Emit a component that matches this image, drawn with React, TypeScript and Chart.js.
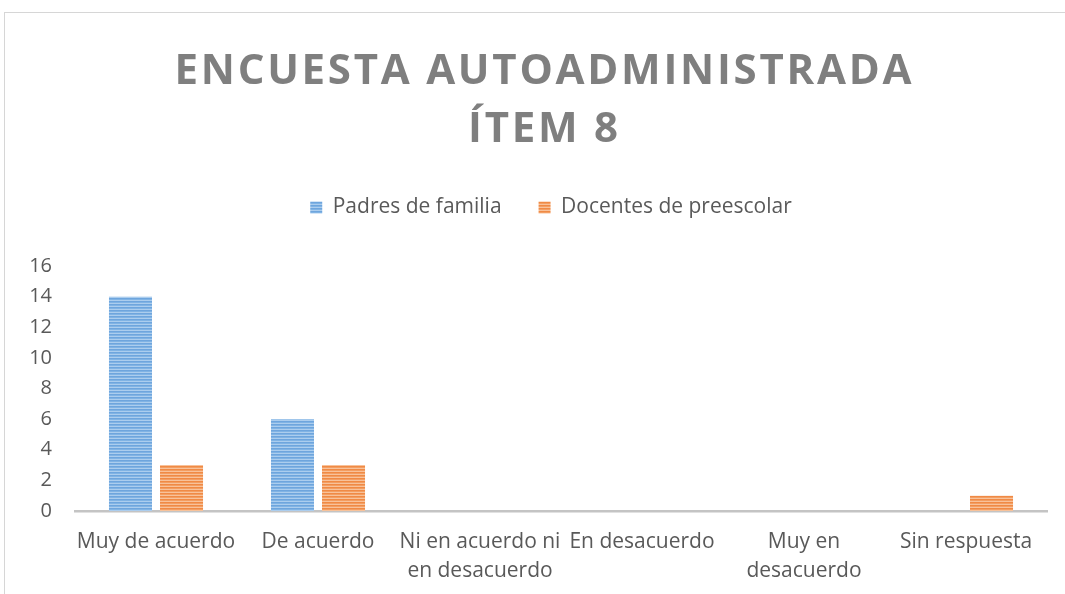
import React, { useEffect, useRef } from 'react';
import { Chart, registerables } from 'chart.js';

Chart.register(...registerables);

// ---- Data ----
const categories: string[][] = [
  ['Muy de acuerdo'],
  ['De acuerdo'],
  ['Ni en acuerdo ni', 'en desacuerdo'],
  ['En desacuerdo'],
  ['Muy en', 'desacuerdo'],
  ['Sin respuesta'],
];
const seriesNames = ['Padres de familia', 'Docentes de preescolar'];
const padres = [14, 6, 0, 0, 0, 0];
const docentes = [3, 3, 0, 0, 0, 1];
const yMin = 0;
const yMax = 16;
const yStep = 2;
const titleLines = ['ENCUESTA AUTOADMINISTRADA', 'ÍTEM 8'];

// ---- Styles ----
const FONT = '"Open Sans", "Noto Sans", sans-serif';
const TEXT = '#595959';
const CANVAS_W = 1092;
const CANVAS_H = 581;

function stripePattern(rows: string[]): CanvasPattern | string {
  const c = document.createElement('canvas');
  c.width = 4;
  c.height = rows.length;
  const g = c.getContext('2d');
  if (!g) return rows[0];
  rows.forEach((col, i) => {
    g.fillStyle = col;
    g.fillRect(0, i, 4, 1);
  });
  const p = g.createPattern(c, 'repeat');
  return p || rows[0];
}

const titlePlugin = {
  id: 'spacedTitle',
  afterDraw(chart: any) {
    const ctx: CanvasRenderingContext2D = chart.ctx;
    ctx.save();
    ctx.font = `bold 42px ${FONT}`;
    ctx.fillStyle = '#7f7f7f';
    ctx.textBaseline = 'middle';
    ctx.textAlign = 'left';
    (ctx as any).letterSpacing = '0px';
    const targetW = 737;
    const first = titleLines[0];
    const n0 = Array.from(first).length;
    const w0 = ctx.measureText(first).width;
    const spacing = (targetW - w0) / (n0 - 1);
    const cx = 538;
    const ys = [59, 117];
    titleLines.forEach((line, i) => {
      (ctx as any).letterSpacing = '0px';
      const n = Array.from(line).length;
      const w = ctx.measureText(line).width + spacing * (n - 1);
      (ctx as any).letterSpacing = spacing + 'px';
      ctx.fillText(line, cx - w / 2, ys[i]);
    });
    ctx.restore();
  },
};

// shifts the legend box horizontally so it is centred like the reference
const legendShiftPlugin = {
  id: 'legendShift',
  afterLayout(chart: any) {
    const lg = chart.legend;
    if (lg) {
      lg.left += 25;
      lg.right += 25;
    }
  },
};

export default function App() {
  const ref = useRef<HTMLCanvasElement>(null);

  useEffect(() => {
    const canvas = ref.current;
    if (!canvas) return;
    const blue = stripePattern(['#6ea5dd', '#80b3e4', '#abcdee']);
    const orange = stripePattern(['#f08a45', '#f39e62', '#f8c29a']);
    const chart = new Chart(canvas, {
      type: 'bar',
      data: {
        labels: categories,
        datasets: [
          {
            label: seriesNames[0],
            data: padres,
            backgroundColor: blue as any,
            borderWidth: 0,
            categoryPercentage: 0.63,
            barPercentage: 0.843,
          },
          {
            label: seriesNames[1],
            data: docentes,
            backgroundColor: orange as any,
            borderWidth: 0,
            categoryPercentage: 0.63,
            barPercentage: 0.843,
          },
        ],
      },
      options: {
        responsive: false,
        animation: false,
        layout: { padding: { top: 147, left: 0, right: 50, bottom: 0 } },
        plugins: {
          title: { display: false },
          subtitle: {
            display: true,
            text: '',
            weight: 500,
            font: { size: 10, lineHeight: 1 },
            padding: { top: 0, bottom: 28 },
          } as any,
          legend: {
            display: true,
            position: 'top',
            labels: {
              boxWidth: 12,
              boxHeight: 12,
              padding: 37,
              color: TEXT,
              font: { family: FONT, size: 21 },
            },
          },
          tooltip: { enabled: false },
        },
        scales: {
          x: {
            grid: { display: false, drawTicks: false },
            border: { display: true, color: '#c4c4c4', width: 2.5 },
            ticks: {
              color: TEXT,
              font: { family: FONT, size: 21, lineHeight: 1.35 },
              padding: 17,
              maxRotation: 0,
              autoSkip: false,
            },
            afterFit(scale: any) {
              scale.height = 83;
            },
          },
          y: {
            min: yMin,
            max: yMax,
            grid: { display: false, drawTicks: false },
            border: { display: false },
            ticks: {
              stepSize: yStep,
              color: TEXT,
              font: { family: FONT, size: 20 },
              padding: 23,
            },
            afterFit(scale: any) {
              scale.width = 70;
            },
          },
        },
      },
      plugins: [titlePlugin, legendShiftPlugin],
    });
    return () => chart.destroy();
  }, []);

  return (
    <div
      style={{
        position: 'fixed',
        left: 0,
        top: 0,
        width: 1065,
        height: 594,
        overflow: 'hidden',
        background: '#ffffff',
      }}
    >
      <div
        style={{
          position: 'absolute',
          left: 4,
          top: 12,
          width: CANVAS_W + 1,
          height: CANVAS_H + 1,
          borderLeft: '1px solid #d6d6d6',
          borderTop: '1px solid #d6d6d6',
          boxSizing: 'border-box',
        }}
      >
        <canvas
          ref={ref}
          width={CANVAS_W}
          height={CANVAS_H}
          style={{ display: 'block', width: CANVAS_W, height: CANVAS_H }}
        />
      </div>
    </div>
  );
}
